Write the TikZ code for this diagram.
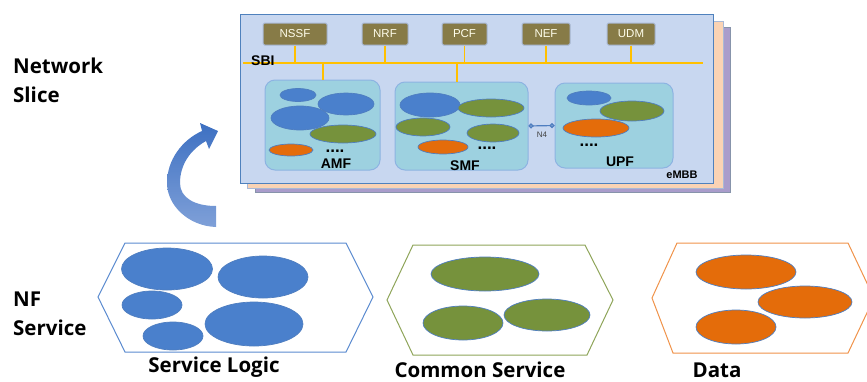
\documentclass[tikz,border=0pt]{standalone}
\usepackage{fontspec}
\setmainfont{Liberation Sans}
\newfontfamily\labfont{Open Sans}
\usetikzlibrary{arrows.meta,shapes.geometric}
\definecolor{sliceF}{HTML}{C8D7F0}
\definecolor{sliceB}{HTML}{4F81BD}
\definecolor{peach}{HTML}{FAD3B4}
\definecolor{lav}{HTML}{A99CCB}
\definecolor{nfc}{HTML}{877B47}
\definecolor{nfb}{HTML}{A9B9D6}
\definecolor{sbic}{HTML}{FFC000}
\definecolor{teal}{HTML}{9DD1E0}
\definecolor{tealb}{HTML}{8DB3E2}
\definecolor{eblue}{HTML}{4A80CC}
\definecolor{egreen}{HTML}{76923C}
\definecolor{eorange}{HTML}{E46C0A}
\definecolor{eline}{HTML}{4F7EC0}
\definecolor{hexblue}{HTML}{5B8BD0}
\definecolor{hexgreen}{HTML}{8FA55A}
\definecolor{hexorange}{HTML}{F0934A}
\definecolor{arrD}{HTML}{3D70C2}
\definecolor{arrL}{HTML}{7FA0D8}
\begin{document}
\begin{tikzpicture}[x=1pt,y=-1pt,
  ellb/.style 2 args={ellipse,draw=eline,line width=0.7pt,fill=eblue,minimum width=#1,minimum height=#2,inner sep=0pt},
  ellg/.style 2 args={ellipse,draw=eline,line width=0.7pt,fill=egreen,minimum width=#1,minimum height=#2,inner sep=0pt},
  ello/.style 2 args={ellipse,draw=eline,line width=0.7pt,fill=eorange,minimum width=#1,minimum height=#2,inner sep=0pt},
  nfbox/.style={draw=nfb,line width=1pt,fill=nfc,text=white!92!yellow,font=\fontsize{11.5}{13}\selectfont,minimum height=22,inner sep=0pt,rounded corners=1.5pt},
  fnbox/.style={draw=tealb,line width=1pt,fill=teal,rounded corners=10pt,inner sep=0pt},
  sbiline/.style={draw=sbic,line width=1.8pt},
  sbitap/.style={draw=sbic,line width=1.5pt},
  fnlabel/.style={font=\bfseries\fontsize{14}{16}\selectfont,inner sep=0pt},
  dots/.style={font=\bfseries\fontsize{17}{18}\selectfont,inner sep=0pt,anchor=base},
  biglab/.style={font=\labfont\bfseries\fontsize{20.5}{23}\selectfont,inner sep=0pt},
]
\useasboundingbox (0,0) rectangle (867,381);

% slice stack
\draw[draw=nfb!80!black,fill=lav,line width=0.8pt] (255,27) rectangle (730,192);
\draw[draw=nfb,fill=peach,line width=0.8pt] (247,21) rectangle (723,188);
\draw[draw=sliceB,fill=sliceF,line width=1pt] (240,14) rectangle (713,183);

% NF boxes
\node[nfbox,minimum width=64] (nssf) at (295,34) {NSSF};
\node[nfbox,minimum width=46] (nrf) at (385,34) {NRF};
\node[nfbox,minimum width=45] (pcf) at (464.5,34) {PCF};
\node[nfbox,minimum width=48] (nef) at (546,34) {NEF};
\node[nfbox,minimum width=48] (udm) at (631,34) {UDM};

% SBI
\coordinate (sbiL) at (243,63);
\coordinate (sbiR) at (703,63);
\draw[sbiline] (sbiL) -- (sbiR);
\node[font=\bfseries\fontsize{14}{16}\selectfont,anchor=west,inner sep=0pt] (sbi) at (251,61) {SBI};

% function boxes
\node[fnbox,minimum width=115,minimum height=90] (amf) at (322.5,125) {};
\node[fnbox,minimum width=133,minimum height=88] (smf) at (461.5,126) {};
\node[fnbox,minimum width=118,minimum height=85] (upf) at (614,125.5) {};
\coordinate (amftap) at (323,80);
\coordinate (smftap) at (457,82);

\foreach \n in {nssf,nrf,pcf,nef,udm}{
  \draw[sbitap] (\n.south) -- (\n.south |- sbiL);
}
\draw[sbitap] (amftap |- sbiL) -- (amftap);
\draw[sbitap] (smftap |- sbiL) -- (smftap);

% AMF contents
\node[ellb={36}{13}] (a1) at (298,95) {};
\node[ellb={56}{22}] (a2) at (346,104) {};
\node[ellb={58}{24}] (a3) at (300,118) {};
\node[ellg={66}{18}] (a4) at (343,134) {};
\node[ello={44}{12}] (a5) at (291,150) {};
\node[dots] (a6) at (335,152) {....};
\node[fnlabel] (amfl) at (336,164) {AMF};

% SMF contents
\node[ellb={60}{24}] (s1) at (430,105) {};
\node[ellg={66}{18}] (s2) at (491,108) {};
\node[ellg={54}{18}] (s3) at (423,127) {};
\node[ellg={52}{18}] (s4) at (493,133) {};
\node[ello={50}{14}] (s5) at (443,147) {};
\node[dots] (s6) at (487,149) {....};
\node[fnlabel] (smfl) at (465,166) {SMF};

% UPF contents
\node[ellb={44}{14}] (u1) at (589,98) {};
\node[ellg={64}{20}] (u2) at (632,111) {};
\node[ello={66}{18}] (u3) at (596,128) {};
\node[dots] (u4) at (589,146) {....};
\node[fnlabel] (upfl) at (620,162) {UPF};
\node[font=\bfseries\fontsize{11}{12}\selectfont,inner sep=0pt] (embb) at (682,175) {eMBB};

% N4
\draw[draw=eline,line width=1.2pt,{Circle[length=5pt,fill=eline!70]}-{Circle[length=5pt,fill=eline!70]}] (smf.east) -- (upf.west);
\node[font=\fontsize{8}{9}\selectfont,text=black!75,inner sep=0pt] (n4) at (542,135) {N4};

% curved arrow
\shade[top color=arrD,bottom color=arrL]
  (216,227) .. controls (188,226) and (167,205) .. (167,183)
  .. controls (167,160) and (182,140) .. (202,131)
  -- (200,123) -- (218,131) -- (209,149) -- (206,141)
  .. controls (190,150) and (180,165) .. (180,183)
  .. controls (180,198) and (195,206) .. (216,206) -- cycle;

% left labels
\node[biglab,anchor=base west] (nw) at (13,73) {Network};
\node[biglab,anchor=base west] (sl) at (13,102) {Slice};
\node[biglab,anchor=base west] (nf) at (13,306) {NF};
\node[biglab,anchor=base west] (sv) at (13,335) {Service};

% Service Logic hexagon
\draw[draw=hexblue,line width=1pt,fill=white] (98,297) -- (125,243) -- (346,243) -- (373,297) -- (346,352) -- (125,352) -- cycle;
\node[ellb={91}{42}] (h1) at (167,269) {};
\node[ellb={90}{42}] (h2) at (263,277) {};
\node[ellb={60}{28}] (h3) at (152,305) {};
\node[ellb={60}{28}] (h4) at (173,336) {};
\node[ellb={98}{44}] (h5) at (254,324) {};
\node[biglab,anchor=base] (slg) at (214,372) {Service Logic};

% Common Service hexagon
\draw[draw=hexgreen,line width=1pt,fill=white] (387,300) -- (413,245) -- (585,245) -- (613,300) -- (587,355) -- (413,355) -- cycle;
\node[ellg={108}{34}] (c1) at (485,274) {};
\node[ellg={80}{34}] (c2) at (463,323) {};
\node[ellg={86}{32}] (c3) at (547,315) {};
\node[biglab,anchor=base] (cs) at (480,377) {Common Service};

% Data hexagon
\draw[draw=hexorange,line width=1pt,fill=white] (652,298) -- (677,243) -- (848,243) -- (874,298) -- (848,353) -- (673,353) -- cycle;
\node[ello={100}{34}] (d1) at (746,272) {};
\node[ello={94}{32}] (d2) at (805,302) {};
\node[ello={80}{34}] (d3) at (736,327) {};
\node[biglab,anchor=base] (dt) at (717,377) {Data};
\end{tikzpicture}
\end{document}
